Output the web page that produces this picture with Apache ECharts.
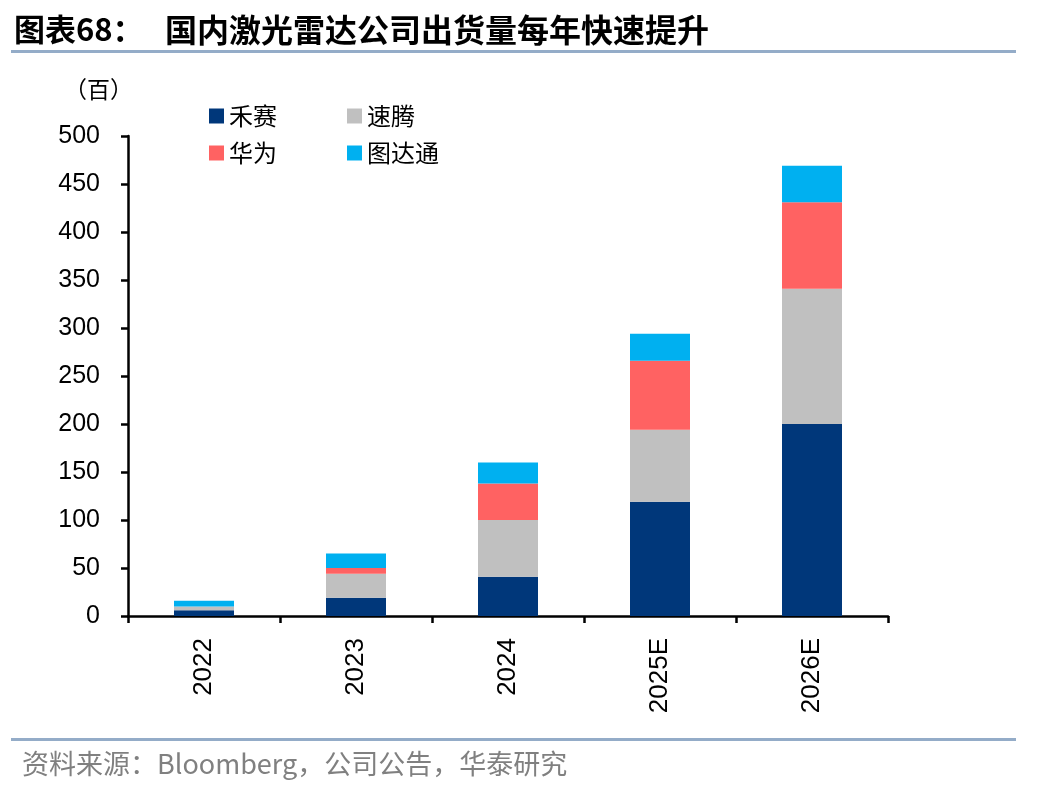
<!DOCTYPE html>
<html>
<head>
<meta charset="utf-8">
<script src="https://cdn.jsdelivr.net/npm/echarts@6/dist/echarts.min.js"></script>
<style>html,body{margin:0;padding:0;background:#fff;}#c{width:1048px;height:792px;}</style>
</head>
<body>
<div id="c"></div>
<script>
const categories = ['2022', '2023', '2024', '2025E', '2026E'];
const hesai = [6, 19, 41, 119, 200];
const robosense = [4, 25, 59, 75, 141];
const huawei = [0, 6, 38, 72, 90];
const innovusion = [6, 15, 22, 28, 38];
const yTicks = [0, 50, 100, 150, 200, 250, 300, 350, 400, 450, 500];

const cjk = '"Noto Sans CJK SC", "Liberation Sans", sans-serif';
const latin = '"Liberation Sans", Arial, "Noto Sans CJK SC", sans-serif';
const lineColor = '#94ACC8';

const chart = echarts.init(document.getElementById('c'), null, {renderer: 'canvas'});
const mk = (name, data, color) => ({
  name, type: 'bar', stack: 'total', data, barWidth: 60,
  itemStyle: {color}, emphasis: {disabled: true}
});
chart.setOption({
  animation: false,
  backgroundColor: '#fff',
  grid: {left: 128, right: 160, top: 136, bottom: 176, containLabel: false},
  legend: [
    {data: ['禾赛', '速腾'], left: 204, top: 99, itemWidth: 15, itemHeight: 15, itemGap: 70,
     icon: 'rect', textStyle: {fontFamily: cjk, fontSize: 24, color: '#000'}},
    {data: ['华为', '图达通'], left: 204, top: 136, itemWidth: 15, itemHeight: 15, itemGap: 70,
     icon: 'rect', textStyle: {fontFamily: cjk, fontSize: 24, color: '#000'}}
  ],
  xAxis: {
    type: 'category', data: categories,
    axisLine: {lineStyle: {color: '#000', width: 2.5}},
    axisTick: {show: true, length: 7, lineStyle: {color: '#000', width: 2.5}},
    axisLabel: {rotate: 90, margin: 22, fontFamily: latin, fontSize: 26, color: '#000'}
  },
  yAxis: {
    type: 'value', min: 0, max: 500, interval: 50,
    axisLine: {show: true, lineStyle: {color: '#000', width: 2.5}},
    axisTick: {show: true, length: 7, inside: false, lineStyle: {color: '#000', width: 2.5}},
    axisLabel: {margin: 28, fontFamily: latin, fontSize: 25, color: '#000',
      formatter: v => yTicks.includes(v) ? String(v) : ''},
    splitLine: {show: false}
  },
  series: [
    mk('禾赛', hesai, '#00377A'),
    mk('速腾', robosense, '#C0C0C0'),
    mk('华为', huawei, '#FF6262'),
    mk('图达通', innovusion, '#00B0F0')
  ],
  graphic: [
    {type: 'text', left: 14, top: 14, style: {text: '图表68：', fontFamily: cjk, fontWeight: 'bold', fontSize: 31, fill: '#000'}},
    {type: 'text', left: 165, top: 14, style: {text: '国内激光雷达公司出货量每年快速提升', fontFamily: cjk, fontWeight: 'bold', fontSize: 32, fill: '#000'}},
    {type: 'rect', shape: {x: 11, y: 50, width: 1005, height: 3}, style: {fill: lineColor}},
    {type: 'text', left: 64, top: 78, style: {text: '（百）', fontFamily: cjk, fontSize: 23, fill: '#000'}},
    {type: 'rect', shape: {x: 11, y: 738, width: 1005, height: 3}, style: {fill: lineColor}},
    {type: 'text', left: 22, top: 750, style: {text: '资料来源：Bloomberg，公司公告，华泰研究', fontFamily: cjk, fontSize: 27, fill: '#808080'}}
  ]
});
</script>
</body>
</html>
